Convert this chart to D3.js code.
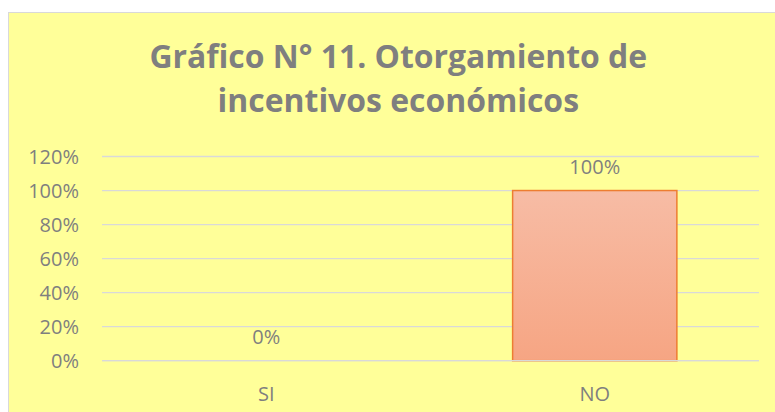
<!DOCTYPE html>
<html>
<head>
<meta charset="utf-8">
<script src="https://cdn.jsdelivr.net/npm/d3@7"></script>
<style>
  html, body { margin: 0; padding: 0; background: #ffffff; }
  svg { display: block; }
</style>
</head>
<body>
<svg id="chart" width="775" height="412"></svg>
<script>
const titleLines = ["Gráfico N° 11. Otorgamiento de", "incentivos económicos"];
const categories = ["SI", "NO"];
const values = [0, 1];
const yTicks = [0, 0.2, 0.4, 0.6, 0.8, 1.0, 1.2];

const svg = d3.select("#chart");
const textColor = "#7f7f7f";
const font = "'Open Sans', 'Liberation Sans', sans-serif";
const labelSize = 20;

// chart area background + border
svg.append("rect")
  .attr("x", 8.5).attr("y", 12.5)
  .attr("width", 800).attr("height", 420)
  .attr("fill", "#ffff99")
  .attr("stroke", "#d9d9d9").attr("stroke-width", 1);

// gradient for bar
const defs = svg.append("defs");
const grad = defs.append("linearGradient").attr("id", "barGrad")
  .attr("x1", 0).attr("y1", 0).attr("x2", 0).attr("y2", 1);
grad.append("stop").attr("offset", "0%").attr("stop-color", "#f7bca5");
grad.append("stop").attr("offset", "100%").attr("stop-color", "#f6a583");

const x = d3.scaleBand().domain(categories).range([102, 759])
  .paddingInner(0.5).paddingOuter(0.25);
const y = d3.scaleLinear().domain([0, 1.2]).range([360.7, 156.5]);
const fmt = d3.format(".0%");

// gridlines
svg.append("g").selectAll("line").data(yTicks).join("line")
  .attr("x1", 102).attr("x2", 759)
  .attr("y1", d => y(d)).attr("y2", d => y(d))
  .attr("stroke", "#d9d9d9").attr("stroke-width", 1.3);

// y tick labels
svg.append("g").selectAll("text").data(yTicks).join("text")
  .attr("x", 79).attr("y", d => y(d))
  .attr("text-anchor", "end").attr("dominant-baseline", "central")
  .attr("font-family", font).attr("font-size", labelSize)
  .attr("fill", textColor)
  .text(d => fmt(d));

// bars
const data = categories.map((c, i) => ({ c, v: values[i] }));
svg.append("g").selectAll("rect").data(data.filter(d => d.v > 0)).join("rect")
  .attr("x", d => x(d.c)).attr("width", x.bandwidth())
  .attr("y", d => y(d.v)).attr("height", d => y(0) - y(d.v))
  .attr("fill", "url(#barGrad)")
  .attr("stroke", "#ed7d31").attr("stroke-width", 1.5);

// baseline over bar bottom
svg.append("line")
  .attr("x1", 102).attr("x2", 759).attr("y1", y(0)).attr("y2", y(0))
  .attr("stroke", "#d9d9d9").attr("stroke-width", 1.3);

// data labels
svg.append("g").selectAll("text").data(data).join("text")
  .attr("x", d => x(d.c) + x.bandwidth() / 2)
  .attr("y", d => y(d.v) - 24)
  .attr("text-anchor", "middle").attr("dominant-baseline", "central")
  .attr("font-family", font).attr("font-size", labelSize)
  .attr("fill", textColor)
  .text(d => fmt(d.v));

// category labels
svg.append("g").selectAll("text").data(categories).join("text")
  .attr("x", d => x(d) + x.bandwidth() / 2)
  .attr("y", y(0) + 32.6)
  .attr("text-anchor", "middle").attr("dominant-baseline", "central")
  .attr("font-family", font).attr("font-size", labelSize)
  .attr("fill", textColor)
  .text(d => d);

// title
const titlePos = [{ base: 68.3 }, { base: 112.3 }];
const titleCx = 398.3, titleW = 498;
const tg = svg.append("g");
const t1 = tg.append("text").attr("font-family", font).attr("font-weight", "bold")
  .attr("font-size", 30).text(titleLines[0]);
const natural = t1.node().getComputedTextLength();
const titleSize = 30 * titleW / natural;
t1.remove();
tg.selectAll("text").data(titleLines).join("text")
  .attr("x", titleCx)
  .attr("y", (d, i) => titlePos[i].base)
  .attr("text-anchor", "middle")
  .attr("font-family", font).attr("font-weight", "bold")
  .attr("font-size", titleSize)
  .attr("fill", textColor)
  .text(d => d);
</script>
</body>
</html>
